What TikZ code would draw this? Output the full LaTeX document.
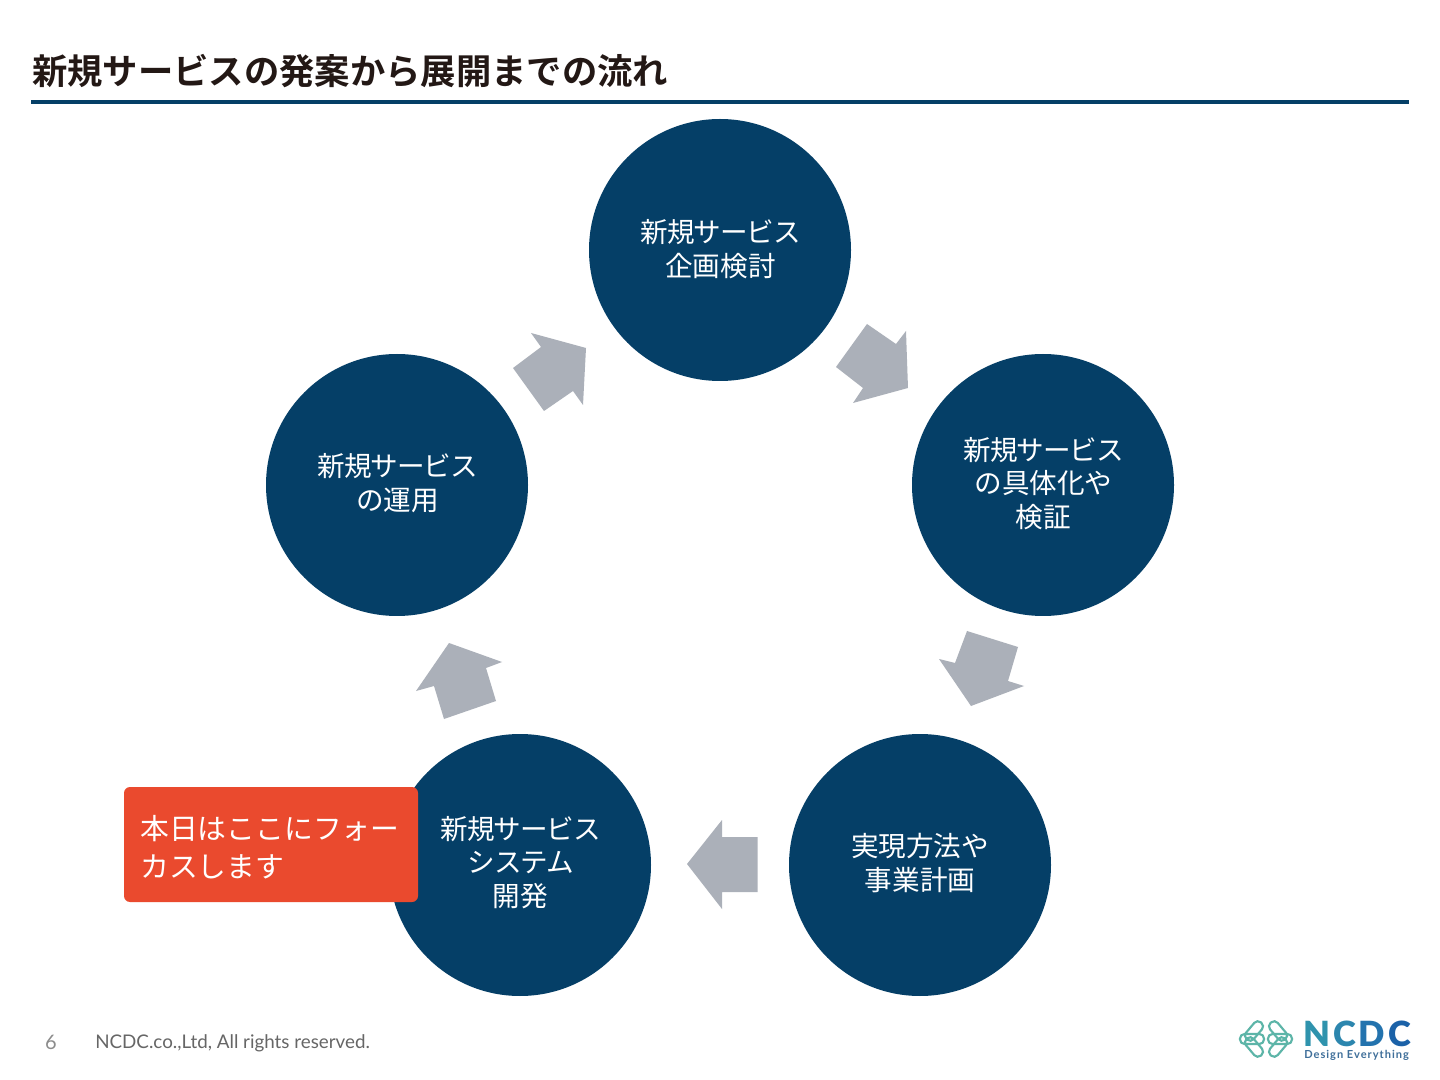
\documentclass[tikz,border=0pt]{standalone}
\usepackage{fontspec}
\setmainfont{Noto Sans CJK JP}
\newfontfamily\boldjp{Noto Sans CJK JP Bold}
\newfontfamily\latin{Lato}
\newfontfamily\logofont{Lato Black}
\newfontfamily\tagfont[LetterSpace=9]{Lato Bold}
\newcommand{\tight}[1]{{\addfontfeature{LetterSpace=-3.6}#1}\kern-0.5pt}
\definecolor{navy}{HTML}{053F67}
\definecolor{arrowgrey}{HTML}{ABB0B9}
\definecolor{focusred}{HTML}{EA4A2E}
\definecolor{ink}{HTML}{231815}
\definecolor{teal1}{HTML}{5DB5A8}
\definecolor{tagblue}{HTML}{3F6F9A}
\definecolor{n1}{HTML}{2F93AD}
\definecolor{n2}{HTML}{2C86AE}
\definecolor{n3}{HTML}{2373AE}
\definecolor{n4}{HTML}{1B62A8}
\tikzset{
 stage/.style={circle,fill=navy,minimum size=196.5pt,inner sep=0pt},
 stagetext/.style={text=white,align=center,font=\fontsize{20.7pt}{25pt}\selectfont,inner sep=0pt},
 blockarrow/.style={fill=arrowgrey,draw=none},
 capsule/.style={draw=teal1,line width=1.6pt,rounded corners=3.4pt},
}
\begin{document}
\begin{tikzpicture}[x=0.75pt,y=-0.75pt]
\useasboundingbox (0,0) rectangle (1440,1080);
\fill[white] (0,0) rectangle (1440,1080);
% title
\node[anchor=west,inner sep=0pt,text=ink,font=\boldjp\fontsize{26.5pt}{30pt}\selectfont] (title) at (32,71) {新規サービスの発案から展開までの流れ};
\fill[navy] (31,100.5) rectangle (1409,104);
% stages
\node[stage] (c1) at (720,250) {};
\node[stage] (c2) at (1043,485) {};
\node[stage] (c3) at (920,865) {};
\node[stage] (c4) at (520,865) {};
\node[stage] (c5) at (397,485) {};
\node[stagetext] (t1) at (720.5,249) {\tight{新規サービス}\\企画検討};
\node[stagetext] (t2) at (1043.5,483.5) {\tight{新規サービス}\\の具体化や\\検証};
\node[stagetext] (t3) at (920,863) {実現方法や\\事業計画};
\node[stagetext] (t4) at (520.5,862.5) {\tight{新規サービス}\\\tight{システム}\\開発};
\node[stagetext] (t5) at (397.5,483) {\tight{新規サービス}\\の運用};
% arrows
\fill[blockarrow] (867,324)--(896,344)--(906,331)--(908,388)--(853,403)--(863,388)--(836,367)--cycle;
\fill[blockarrow] (967,631)--(1018,647)--(1008,681)--(1024,686)--(971,706)--(939,659)--(955,663)--cycle;
\fill[blockarrow] (687,864)--(722,820)--(722,837)--(757.5,837)--(757.5,892)--(722,892)--(722,909)--cycle;
\fill[blockarrow] (449,643)--(502,662)--(486,668)--(496,701)--(444,719)--(434,686)--(416,691)--cycle;
\fill[blockarrow] (531,333)--(586,348)--(583,405)--(573,391)--(544,411)--(513,368)--(541,347)--cycle;
% focus box
\node[fill=focusred,rounded corners=4.5pt,minimum width=220.5pt,minimum height=86.25pt,inner sep=0pt] (focus) at (271,844.5) {};
\node[anchor=west,inner sep=0pt,text=white,align=left,font=\fontsize{21.6pt}{28.5pt}\selectfont] (focustext) at (140,847) {本日はここにフォー\\カスします};
% footer
\node[inner sep=0pt,text=black!45,font=\latin\fontsize{15pt}{16pt}\selectfont] (page) at (51,1042) {6};
\node[anchor=west,inner sep=0pt,text=black!60,font=\latin\fontsize{14.1pt}{16pt}\selectfont] (copy) at (95,1043) {NCDC.co.,Ltd, All rights reserved.};
% logo mark
\draw[capsule,rotate around={50:(1254,1031)}] (1243,1026) rectangle (1265,1036);
\draw[capsule,rotate around={-50:(1254,1047)}] (1243,1042) rectangle (1265,1052);
\draw[capsule] (1240,1034) rectangle (1264,1044);
\draw[capsule,rotate around={-50:(1278,1031)}] (1267,1026) rectangle (1289,1036);
\draw[capsule,rotate around={50:(1278,1047)}] (1267,1042) rectangle (1289,1052);
\draw[capsule] (1268,1034) rectangle (1292,1044);
% logo text
\node[anchor=base west,inner sep=0pt,font=\logofont\fontsize{26pt}{27pt}\selectfont] (ncdc) at (1303,1046) {\textcolor{n1}{N}\kern2.2pt\textcolor{n2}{C}\kern2.2pt\textcolor{n3}{D}\kern2.2pt\textcolor{n4}{C}};
\node[anchor=base west,inner sep=0pt,text=tagblue,font=\tagfont\fontsize{8.3pt}{9pt}\selectfont] (tag) at (1304,1058) {Design Everything};
\end{tikzpicture}
\end{document}
